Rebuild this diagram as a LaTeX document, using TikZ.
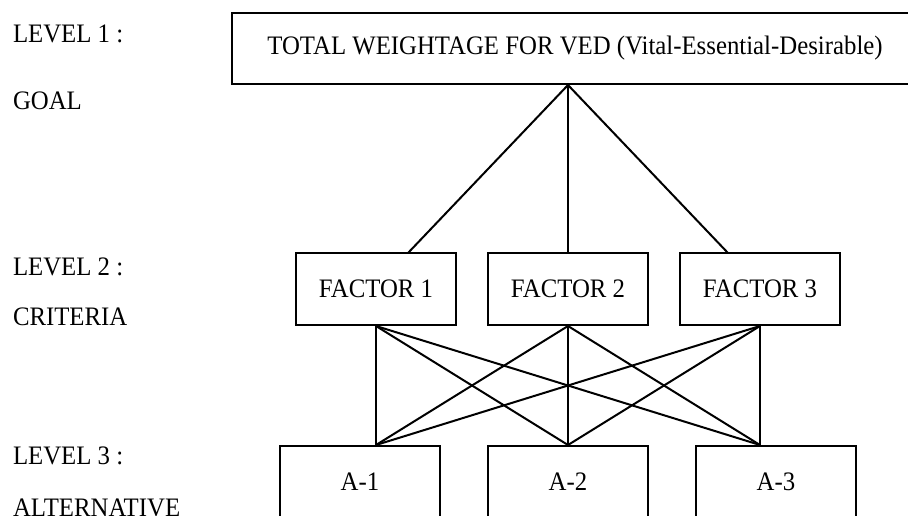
\documentclass[tikz,border=0pt]{standalone}
\usepackage{fontspec}
\setmainfont{Liberation Serif}[FakeStretch=0.93]
\begin{document}
\begin{tikzpicture}[x=0.75pt,y=-0.75pt,line width=1.5pt,
  every node/.style={font=\fontsize{20}{24}\selectfont},
  box/.style={draw,line width=1.5pt,inner sep=0pt,minimum width=120pt,minimum height=54pt},
  level/.style={anchor=base west,inner sep=0pt}]

\useasboundingbox (0,0) rectangle (908,515);

% level names on the left
\node [level] (lev1) at (12,42) {LEVEL 1 :};

\node [level] (goaltxt) at (12,109) {GOAL};

\node [level] (lev2) at (12,275) {LEVEL 2 :};

\node [level] (crittxt) at (12,325) {CRITERIA};

\node [level] (lev3) at (12,464) {LEVEL 3 :};

\node [level] (alttxt) at (12,516) {ALTERNATIVE};

% goal, criteria and alternatives
\node [box,minimum width=514.5pt,minimum height=53.25pt] (goal) at (575,48.5) {TOTAL WEIGHTAGE FOR VED (Vital-Essential-Desirable)};

\node [box] (F1) at (376,289) {FACTOR 1};

\node [box] (F2) at (568,289) {FACTOR 2};

\node [box] (F3) at (760,289) {FACTOR 3};

\node [box] (A1) at (360,482) {A-1};

\node [box] (A2) at (568,482) {A-2};

\node [box] (A3) at (776,482) {A-3};

\coordinate (apex) at (F2.north |- goal.south);

\coordinate (f1top) at (408,253);

\coordinate (f3top) at (728,253);

\coordinate (a1top) at (F1.south |- A1.north);

\coordinate (a3top) at (F3.south |- A3.north);

% goal to criteria
\draw (apex) -- (f1top);

\draw (apex) -- (F2.north);

\draw (apex) -- (f3top);

% criteria to alternatives
\draw (F1.south) -- (a1top);

\draw (F1.south) -- (A2.north);

\draw (F1.south) -- (a3top);

\draw (F2.south) -- (a1top);

\draw (F2.south) -- (A2.north);

\draw (F2.south) -- (a3top);

\draw (F3.south) -- (a1top);

\draw (F3.south) -- (A2.north);

\draw (F3.south) -- (a3top);

\end{tikzpicture}
\end{document}
